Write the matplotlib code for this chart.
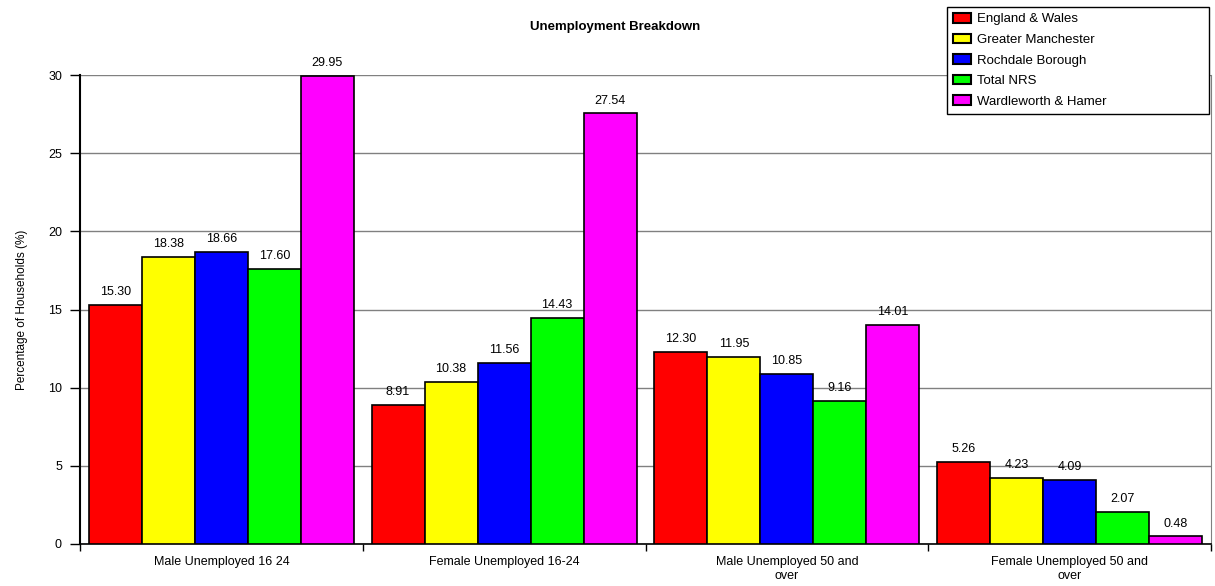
import numpy as np
import matplotlib
matplotlib.use("Agg")
import matplotlib.pyplot as plt

plt.rcParams['font.family'] = ['Liberation Sans', 'DejaVu Sans']

# Data
categories = ["Male Unemployed 16 24", "Female Unemployed 16-24",
              "Male Unemployed 50 and\nover", "Female Unemployed 50 and\nover"]
series = ["England & Wales", "Greater Manchester", "Rochdale Borough",
          "Total NRS", "Wardleworth & Hamer"]
england_wales = [15.30, 8.91, 12.30, 5.26]
greater_manchester = [18.38, 10.38, 11.95, 4.23]
rochdale_borough = [18.66, 11.56, 10.85, 4.09]
total_nrs = [17.60, 14.43, 9.16, 2.07]
wardleworth_hamer = [29.95, 27.54, 14.01, 0.48]
colors = ["#FF0000", "#FFFF00", "#0000FF", "#00FF00", "#FF00FF"]

values = [england_wales, greater_manchester, rochdale_borough, total_nrs, wardleworth_hamer]

fig = plt.figure(figsize=(12.15, 5.86), dpi=100)
ax = fig.add_axes([80 / 1215, 42 / 586, (1211 - 80) / 1215, (544 - 75) / 586])

x = np.arange(len(categories))
width = 0.1875
handles = []
for i, (name, vals, col) in enumerate(zip(series, values, colors)):
    pos = x + (i - 2) * width
    b = ax.bar(pos, vals, width, color=col, edgecolor="black", linewidth=1.2,
               label=name, zorder=3)
    handles.append(b)
    for p, v in zip(pos, vals):
        ax.annotate(f"{v:.2f}", (p, v), xytext=(0, 5), textcoords="offset points",
                    ha="center", va="bottom", fontsize=9, zorder=4)

ax.set_xlim(-0.5, 3.5)
ax.set_ylim(0, 30)
ax.set_yticks(np.arange(0, 31, 5))
ax.tick_params(axis="y", direction="out", length=7, width=1, labelsize=9, pad=6)
ax.set_xticks(x)
ax.set_xticklabels(categories, fontsize=9, linespacing=1.15)
ax.set_xticks([-0.5, 0.5, 1.5, 2.5, 3.5], minor=True)
ax.tick_params(axis="x", which="major", length=0, pad=9)
ax.tick_params(axis="x", which="minor", direction="out", length=5, width=1)

ax.yaxis.grid(True, color="#808080", linewidth=1, zorder=0)
ax.set_axisbelow(True)
ax.spines["left"].set_linewidth(1.5)
ax.spines["bottom"].set_linewidth(1.2)
ax.spines["top"].set_visible(False)
ax.spines["right"].set_color("#808080")

ax.set_ylabel("Percentage of Households (%)", fontsize=8.5, labelpad=14)

fig.text(615 / 1215, 1 - 27 / 586, "Unemployment Breakdown", ha="center", va="center",
         fontsize=9.5, fontweight="bold")

leg = fig.legend(handles=handles, labels=series, loc="upper left",
                 bbox_to_anchor=(947 / 1215, 1 - 7 / 586, (1209 - 947) / 1215, 0),
                 mode="expand", fontsize=9.5,
                 frameon=True, fancybox=False, edgecolor="black", framealpha=1,
                 handlelength=1.4, handleheight=0.75, handletextpad=0.4,
                 labelspacing=0.62, borderpad=0.45, borderaxespad=0)
leg.get_frame().set_linewidth(1)
for h in leg.legend_handles:
    h.set_linewidth(1.5)

fig.savefig("out.png", dpi=100)
